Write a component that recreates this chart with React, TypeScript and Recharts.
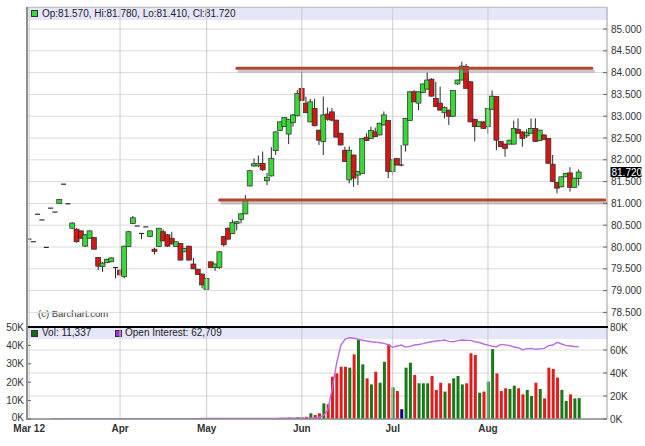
import React from 'react';
import { ComposedChart, Bar, Line, XAxis, YAxis, CartesianGrid, ReferenceLine, Cell } from 'recharts';

const FONT = '"Liberation Sans", Arial, Helvetica, sans-serif';

const SLOT_COUNT = 134;
const MONTH_SLOTS = [0, 21, 41, 63, 84, 106];
const MONTH_LABELS = ['Mar 12', 'Apr', 'May', 'Jun', 'Jul', 'Aug'];
const PRICE_TICKS = [78.5, 79, 79.5, 80, 80.5, 81, 81.5, 82, 82.5, 83, 83.5, 84, 84.5, 85];
const VOL_TICKS = [0, 10, 20, 30, 40, 50];
const OI_TICKS = [0, 20, 40, 60, 80];
const RESISTANCE = 84.1;
const RESISTANCE_SLOTS = [48, 130];
const SUPPORT = 81.08;
const SUPPORT_SLOTS = [44, 133];

const OPEN = [
  80.18, 80.12, 80.75, 80.62, 79.99, 80.89, 80.8, 81.0, 81.44, 80.99,
  80.43, 80.41, 80.37, 80.02, 80.2, 80.22, 79.76, 79.55, 79.64, 79.66,
  79.53, 79.47, 79.32, 80.01, 80.54, 80.48, 80.31, 80.46, 80.24, 79.95,
  80.01, 80.35, 80.28, 80.2, 80.01, 80.08, 79.89, 80.02, 79.61, 79.49,
  79.38, 79.03, 79.66, 79.53, 79.53, 80.24, 80.43, 80.31, 80.54, 80.63,
  80.76, 81.4, 81.86, 81.86, 81.92, 81.52, 81.63, 82.21, 82.67, 82.76,
  82.59, 82.85, 83.01, 83.64, 83.3, 82.87, 83.18, 82.68, 82.42, 83.05,
  83.1, 82.91, 82.61, 82.22, 81.54, 82.11, 81.65, 81.69, 82.52, 82.49,
  82.64, 82.57, 82.8, 82.9, 81.73, 82.03, 81.88, 82.34, 82.9, 83.56,
  83.3, 83.54, 83.62, 83.85, 83.41, 83.3, 83.08, 83.14, 83.0, 83.74,
  83.83, 84.14, 83.79, 82.93, 82.76, 82.87, 82.76, 83.16, 83.45, 82.42,
  82.36, 82.36, 82.36, 82.7, 82.64, 82.55, 82.61, 82.72, 82.44, 82.57,
  82.49, 81.9, 81.48, 81.38, 81.61, 81.7, 81.37, 81.57,
];
const HIGH = [
  80.18, 80.12, 80.75, 80.62, 79.99, 80.89, 80.8, 81.1, 81.44, 80.99,
  80.57, 80.43, 80.38, 80.3, 80.38, 80.23, 79.77, 79.66, 79.73, 79.76,
  79.54, 79.48, 80.03, 80.36, 80.71, 80.48, 80.32, 80.46, 80.38, 79.98,
  80.44, 80.4, 80.3, 80.35, 80.13, 80.09, 79.98, 80.03, 79.75, 79.5,
  79.39, 79.29, 79.67, 79.62, 79.9, 80.25, 80.45, 80.63, 80.6, 80.77,
  81.19, 81.76, 82.03, 82.1, 82.19, 81.7, 82.29, 82.65, 82.88, 82.98,
  82.94, 83.05, 83.6, 84.01, 83.45, 83.4, 83.4, 82.69, 83.45, 83.2,
  83.19, 82.92, 82.62, 82.3, 82.31, 82.12, 81.74, 82.5, 82.61, 82.76,
  82.74, 82.85, 83.11, 82.91, 82.01, 82.04, 82.34, 82.96, 83.57, 83.6,
  83.57, 83.75, 84.0, 83.87, 83.79, 83.68, 83.22, 83.15, 83.6, 83.84,
  84.25, 84.2, 83.8, 82.94, 82.88, 82.88, 83.19, 83.59, 83.46, 82.43,
  82.37, 82.46, 82.9, 82.95, 82.65, 82.7, 82.95, 82.95, 82.69, 82.58,
  82.5, 82.11, 81.49, 81.62, 81.7, 81.83, 81.59, 81.78,
];
const LOW = [
  80.18, 80.12, 80.75, 80.62, 79.99, 80.89, 80.8, 81.0, 81.44, 80.99,
  80.42, 80.1, 80.19, 80.0, 80.19, 79.94, 79.47, 79.43, 79.63, 79.65,
  79.28, 79.35, 79.28, 80.0, 80.53, 80.48, 80.18, 80.46, 80.23, 79.83,
  80.0, 80.13, 80.0, 80.06, 80.0, 79.69, 79.88, 79.69, 79.49, 79.36,
  79.05, 79.02, 79.52, 79.45, 79.5, 80.01, 80.17, 80.3, 80.38, 80.54,
  80.75, 81.39, 81.84, 81.83, 81.74, 81.42, 81.62, 82.11, 82.66, 82.75,
  82.36, 82.76, 83.0, 83.35, 83.07, 82.86, 82.77, 82.34, 82.11, 82.9,
  82.88, 82.51, 82.33, 81.95, 81.46, 81.38, 81.42, 81.68, 82.43, 82.48,
  82.52, 82.56, 82.79, 81.58, 81.65, 81.87, 81.85, 82.19, 82.89, 83.32,
  83.14, 83.53, 83.61, 83.45, 83.21, 83.13, 82.95, 82.8, 82.99, 83.72,
  83.82, 83.63, 82.86, 82.42, 82.75, 82.71, 82.6, 83.15, 82.22, 82.29,
  82.07, 82.35, 82.35, 82.6, 82.3, 82.5, 82.6, 82.41, 82.43, 82.46,
  81.91, 81.49, 81.23, 81.37, 81.6, 81.27, 81.36, 81.41,
];
const CLOSE = [
  80.18, 80.12, 80.75, 80.62, 79.99, 80.89, 80.8, 81.09, 81.44, 80.99,
  80.55, 80.12, 80.2, 80.28, 80.37, 79.95, 79.56, 79.63, 79.72, 79.75,
  79.53, 79.36, 80.02, 80.35, 80.67, 80.48, 80.31, 80.46, 80.37, 79.9,
  80.43, 80.14, 80.02, 80.07, 80.12, 79.7, 79.97, 79.7, 79.5, 79.37,
  79.13, 79.28, 79.53, 79.61, 79.89, 80.05, 80.18, 80.56, 80.58, 80.76,
  81.09, 81.75, 81.91, 81.91, 81.77, 81.6, 82.03, 82.64, 82.87, 82.97,
  82.93, 83.03, 83.52, 83.36, 83.08, 83.33, 82.78, 82.45, 83.03, 82.93,
  82.91, 82.52, 82.34, 81.96, 82.22, 81.58, 81.73, 82.49, 82.44, 82.67,
  82.53, 82.84, 83.03, 81.73, 82.0, 81.88, 81.88, 82.95, 83.56, 83.33,
  83.56, 83.74, 83.83, 83.46, 83.22, 83.14, 83.2, 83.0, 83.59, 83.83,
  84.15, 83.64, 82.87, 82.76, 82.87, 82.72, 83.18, 83.46, 82.45, 82.3,
  82.26, 82.45, 82.72, 82.61, 82.49, 82.62, 82.72, 82.42, 82.68, 82.47,
  81.92, 81.5, 81.35, 81.61, 81.69, 81.37, 81.58, 81.72,
];

// volume in thousands of contracts
const VOLUME_K = [
  null, null, null, null, null, null, null, null, null, null,
  null, null, null, null, null, null, null, null, null, null,
  null, null, null, null, null, null, null, null, null, null,
  null, null, null, null, null, null, null, null, null, null,
  null, null, null, null, null, null, null, null, null, null,
  null, null, null, null, null, null, null, 0.4, 0.6, 0.5,
  0.8, 0.6, 1.0, 0.9, 1.2, 3.1, 2.2, 3.1, 8.5, 8.0,
  23.0, 24.8, 28.4, 28.4, 27.9, 35.1, 42.9, 29.7, 22.1, 18.8,
  25.7, 19.7, 31.1, 40.6, 17.2, 15.2, 5.3, 27.9, 30.6, 23.9,
  19.4, 19.4, 19.4, 23.4, 15.8, 19.7, 14.9, 19.4, 22.1, 23.4,
  18.8, 19.4, 35.7, 34.8, 14.3, 14.9, 20.3, 38.0, 24.8, 15.2,
  16.7, 16.3, 18.1, 16.7, 13.4, 15.8, 12.5, 19.7, 16.3, 11.2,
  27.9, 27.2, 22.5, 15.8, 9.8, 13.4, 11.2, 11.337,
];

// open interest in thousands of contracts
const OPEN_INTEREST_K = [
  null, null, null, null, null, 0.3, 0.3, 0.3, 0.3, 0.3,
  0.3, 0.3, 0.3, 0.3, 0.3, 0.3, 0.3, 0.3, 0.3, 0.3,
  0.3, 0.3, 0.3, 0.3, 0.3, 0.3, 0.3, 0.3, 0.3, 0.3,
  0.3, 0.3, 0.3, 0.3, 0.3, 0.3, 0.3, 0.3, 0.3, 0.3,
  0.4, 0.4, 0.4, 0.4, 0.4, 0.4, 0.4, 0.4, 0.4, 0.4,
  0.4, 0.4, 0.4, 0.4, 0.4, 0.5, 0.5, 0.5, 0.6, 0.6,
  0.6, 0.7, 0.7, 0.8, 0.8, 0.9, 1.0, 1.5, 3.0, 8.0,
  26.0, 48.0, 64.0, 69.5, 70.7, 70.2, 69.3, 68.5, 67.8, 67.2,
  66.8, 66.3, 65.8, 64.5, 62.3, 63.5, 64.3, 62.5, 63.2, 64.3,
  64.8, 65.5, 66.5, 67.2, 67.8, 68.2, 68.7, 67.5, 67.2, 68.2,
  68.7, 68.5, 68.4, 67.2, 66.5, 65.2, 64.3, 63.2, 62.9, 64.9,
  64.5, 63.8, 62.6, 62.0, 60.2, 61.2, 61.4, 60.6, 61.0, 61.4,
  63.8, 64.3, 66.7, 65.2, 64.0, 63.5, 63.0, 62.709,
];

const LAST = CLOSE.length - 1;

const rows = Array.from({ length: SLOT_COUNT }, (_, i) => ({
  slot: i,
  o: OPEN[i] ?? null,
  h: HIGH[i] ?? null,
  l: LOW[i] ?? null,
  c: CLOSE[i] ?? null,
  vol: VOLUME_K[i] ?? null,
  oi: OPEN_INTEREST_K[i] ?? null,
}));

const UP_FILL = '#38d838';
const DOWN_FILL = '#d01818';
const VOL_UP = '#187818';
const VOL_DOWN = '#e01c1c';
const VOL_FLAT = '#000080';

const candleRange = (d: any) =>
  d.h == null ? null : [d.l, d.h > d.l ? d.h : d.h + 0.001];

const CandleShape = (props: any) => {
  const { x, y, width, height, payload } = props;
  if (!payload || payload.h == null) return <g />;
  const { o, h, l, c } = payload;
  const cx = x + width / 2;
  const top = Math.min(y, y + height);
  const bottom = Math.max(y, y + height);
  const span = h - l;
  if (span <= 0) {
    return <line x1={cx - 2.5} x2={cx + 2.5} y1={top} y2={top} stroke="#2a2a2a" strokeWidth={1.2} />;
  }
  const ppu = (bottom - top) / span;
  const yOf = (v: number) => top + (h - v) * ppu;
  const yT = yOf(Math.max(o, c));
  const yB = yOf(Math.min(o, c));
  const fill = c > o ? UP_FILL : c < o ? DOWN_FILL : '#555';
  return (
    <g>
      <line x1={cx} x2={cx} y1={top} y2={bottom} stroke="#2a2a2a" strokeWidth={1} />
      {yB - yT < 1 ? (
        <line x1={cx - 2.5} x2={cx + 2.5} y1={yT} y2={yT} stroke="#2a2a2a" strokeWidth={1.2} />
      ) : (
        <rect x={cx - 2.5} y={yT} width={5} height={yB - yT} fill={fill} stroke="#2a2a2a" strokeWidth={0.7} />
      )}
    </g>
  );
};

const LevelShape = (p: any) => (
  <g>
    <line x1={p.x1 + 1} y1={p.y1 + 3} x2={p.x2 + 3} y2={p.y2 + 3} stroke="#8a8a8a" strokeOpacity={0.45} strokeWidth={3} />
    <line x1={p.x1} y1={p.y1} x2={p.x2} y2={p.y2} stroke="#b4452e" strokeWidth={3} strokeLinecap="round" />
  </g>
);

const PriceTick = (props: any) => {
  const { x, y, payload } = props;
  return (
    <g>
      <line x1={x - 8} x2={x - 4} y1={y} y2={y} stroke="#666" />
      <text x={x} y={y} dy={3.5} fontSize={10} fill="#333" fontFamily={FONT}>
        {Number(payload.value).toFixed(3)}
      </text>
    </g>
  );
};

const VolTick = (props: any) => {
  const { x, y, payload } = props;
  return (
    <g>
      <line x1={x + 3} x2={x + 7} y1={y} y2={y} stroke="#666" />
      <text x={x} y={y} dy={payload.value === 0 ? 2 : 3.5} fontSize={10} fill="#333" textAnchor="end" fontFamily={FONT}>
        {`${payload.value}K`}
      </text>
    </g>
  );
};

const OiTick = (props: any) => {
  const { x, y, payload } = props;
  return (
    <g>
      <line x1={x - 7} x2={x - 3} y1={y} y2={y} stroke="#666" />
      <text x={x} y={y} dy={3.5} fontSize={10} fill="#333" fontFamily={FONT}>
        {`${payload.value}K`}
      </text>
    </g>
  );
};

const MonthTick = (props: any) => {
  const { x, y, payload } = props;
  const idx = MONTH_SLOTS.indexOf(payload.value);
  if (idx < 0) return <g />;
  return (
    <text x={x} y={y} dy="0.71em" fontSize={10} fontWeight="bold" fill="#333" textAnchor="middle" fontFamily={FONT}>
      {MONTH_LABELS[idx]}
    </text>
  );
};

const LastPriceLabel = (props: any) => {
  const vb = props.viewBox || {};
  const x = (vb.x ?? 0) + (vb.width ?? 0) + 3.5;
  const y = vb.y ?? 0;
  return (
    <g>
      <rect x={x} y={y - 5} width={31} height={10} fill="#000" />
      <text x={x + 1} y={y + 3.5} fontSize={10} fill="#fff" fontFamily={FONT}>
        {CLOSE[LAST].toFixed(3)}
      </text>
    </g>
  );
};

const fmt3 = (v: number) => v.toFixed(3);
const fmtK = (v: number) => Math.round(v * 1000).toLocaleString('en-US');

const abs = (left: number, top: number, extra: React.CSSProperties = {}): React.CSSProperties => ({
  position: 'absolute',
  left,
  top,
  ...extra,
});

export default function App() {
  return (
    <div style={{ position: 'absolute', left: 0, top: 0, width: 645, height: 446, background: '#fff', fontFamily: FONT, overflow: 'hidden' }}>
      {/* header bands */}
      <div style={abs(27, 7, { width: 580, height: 13, background: '#e6e6fa' })} />
      <div style={abs(27, 327, { width: 580, height: 12, background: '#e6e6fa' })} />

      {/* legends */}
      <div style={abs(31, 9.5, { width: 5, height: 5, background: '#3ad83a', border: '1px solid #333' })} />
      <div style={abs(42, 7, { fontSize: 10, lineHeight: '13px', color: '#222', whiteSpace: 'nowrap' })}>
        {`Op:${fmt3(OPEN[LAST])}, Hi:${fmt3(HIGH[LAST])}, Lo:${fmt3(LOW[LAST])}, Cl:${fmt3(CLOSE[LAST])}`}
      </div>
      <div style={abs(31, 330, { width: 5, height: 5, background: '#156815', border: '1px solid #333' })} />
      <div style={abs(42, 327, { fontSize: 10, lineHeight: '12px', color: '#222', whiteSpace: 'nowrap' })}>
        {`Vol: ${fmtK(VOLUME_K[LAST] as number)}`}
      </div>
      <div style={abs(115, 330, { width: 5, height: 5, background: '#9b30d8', border: '1px solid #333' })} />
      <div style={abs(125, 327, { fontSize: 10, lineHeight: '12px', color: '#222', whiteSpace: 'nowrap' })}>
        {`Open Interest: ${fmtK(OPEN_INTEREST_K[LAST] as number)}`}
      </div>
      <div style={abs(38, 308, { fontSize: 9.5, lineHeight: '11px', color: '#333', whiteSpace: 'nowrap' })}>
        (c) Barchart.com
      </div>

      {/* price panel */}
      <div style={abs(0, 0)}>
        <ComposedChart width={645} height={327} data={rows} margin={{ top: 7, right: 0, bottom: 0, left: 27 }}>
          <CartesianGrid vertical={false} stroke="#dadada" />
          <XAxis dataKey="slot" hide />
          <YAxis
            orientation="right"
            width={38}
            domain={[78.165, 85.505]}
            allowDataOverflow
            ticks={PRICE_TICKS}
            interval={0}
            tickLine={false}
            tickSize={0}
            tickMargin={4}
            axisLine={{ stroke: '#9a9a9a' }}
            tick={<PriceTick />}
          />
          {MONTH_SLOTS.map((s) => (
            <ReferenceLine key={s} x={s} stroke="#cccccc" />
          ))}
          <ReferenceLine
            segment={[{ x: RESISTANCE_SLOTS[0], y: RESISTANCE }, { x: RESISTANCE_SLOTS[1], y: RESISTANCE }]}
            shape={LevelShape}
            ifOverflow="visible"
          />
          <ReferenceLine
            segment={[{ x: SUPPORT_SLOTS[0], y: SUPPORT }, { x: SUPPORT_SLOTS[1], y: SUPPORT }]}
            shape={LevelShape}
            ifOverflow="visible"
          />
          <Bar dataKey={candleRange} barSize={5} shape={CandleShape} isAnimationActive={false} />
          <ReferenceLine y={CLOSE[LAST]} stroke="none" ifOverflow="visible" label={<LastPriceLabel />} />
        </ComposedChart>
      </div>

      {/* volume panel */}
      <div style={abs(0, 317)}>
        <ComposedChart width={645} height={129} data={rows} margin={{ top: 10, right: 0, bottom: 0, left: 0 }}>
          <CartesianGrid vertical={false} yAxisId="oi" stroke="#dadada" />
          <XAxis
            dataKey="slot"
            interval={0}
            height={27}
            tickLine={false}
            tickSize={0}
            tickMargin={5.5}
            axisLine={{ stroke: '#8c8c8c', strokeWidth: 1.5 }}
            tick={<MonthTick />}
          />
          <YAxis
            yAxisId="vol"
            orientation="left"
            width={27}
            domain={[0, 50]}
            allowDataOverflow
            ticks={VOL_TICKS}
            interval={0}
            tickLine={false}
            tickSize={0}
            tickMargin={3}
            axisLine={false}
            tick={<VolTick />}
          />
          <YAxis
            yAxisId="oi"
            orientation="right"
            width={38}
            domain={[0, 80]}
            allowDataOverflow
            ticks={OI_TICKS}
            interval={0}
            tickLine={false}
            tickSize={0}
            tickMargin={3}
            axisLine={{ stroke: '#9a9a9a' }}
            tick={<OiTick />}
          />
          {MONTH_SLOTS.map((s) => (
            <ReferenceLine key={s} x={s} yAxisId="oi" stroke="#cccccc" />
          ))}
          <Bar dataKey="vol" yAxisId="vol" barSize={3} isAnimationActive={false}>
            {rows.map((r) => (
              <Cell
                key={r.slot}
                fill={r.c == null || r.o == null ? VOL_FLAT : r.c > r.o ? VOL_UP : r.c < r.o ? VOL_DOWN : VOL_FLAT}
              />
            ))}
          </Bar>
          <Line
            dataKey="oi"
            yAxisId="oi"
            type="linear"
            stroke="#b86ae8"
            strokeWidth={1.4}
            dot={false}
            connectNulls
            isAnimationActive={false}
          />
        </ComposedChart>
      </div>

      {/* frame */}
      <div style={abs(27, 7, { width: 580, height: 1, background: '#c4c4c4' })} />
      <div style={abs(27, 326, { width: 581, height: 2, background: '#000' })} />
      <div style={abs(25.5, 7, { width: 2.5, height: 413, background: '#8f8f8f' })} />
    </div>
  );
}
